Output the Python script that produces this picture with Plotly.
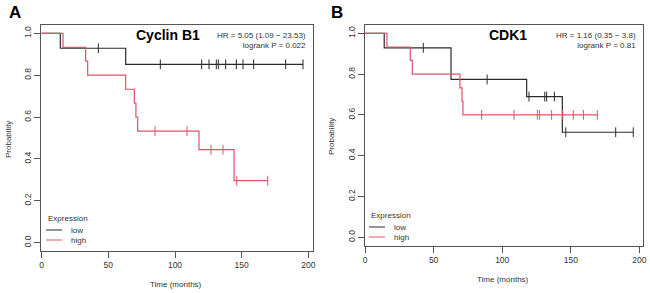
import plotly.graph_objects as go

# ---------------- data ----------------
# Panel A: Cyclin B1
a_low_times = [0, 14, 63]
a_low_surv = [1.0, 0.929, 0.852]
a_low_end = 196
a_low_censor = [42.5, 89, 120, 125.5, 131, 132.5, 138, 146, 151, 159, 183, 196]

a_high_times = [0, 16, 33, 34.5, 63, 69.5, 70.7, 72, 118, 144.3]
a_high_surv = [1.0, 0.933, 0.867, 0.8, 0.733, 0.667, 0.6, 0.533, 0.444, 0.296]
a_high_end = 169.5
a_high_censor = [85, 109, 127, 136, 146.3, 169.5]

# Panel B: CDK1
b_low_times = [0, 14, 62.7, 117.8, 143.8]
b_low_surv = [1.0, 0.929, 0.774, 0.69, 0.515]
b_low_end = 195.5
b_low_censor = [42.5, 89, 119.5, 131, 132.4, 138, 146.3, 182.7, 195.5]

b_high_times = [0, 16, 33, 34.5, 69.2, 70.7, 71.4]
b_high_surv = [1.0, 0.933, 0.867, 0.8, 0.733, 0.667, 0.6]
b_high_end = 169.3
b_high_censor = [85, 108.6, 125.6, 127.1, 136, 144.1, 151.8, 159.2, 169.3]

x_ticks = [0, 50, 100, 150, 200]
y_ticks = [0.0, 0.2, 0.4, 0.6, 0.8, 1.0]

titles = ["Cyclin B1", "CDK1"]
hr_texts = ["HR = 5.05 (1.09 \u2212 23.53)<br>logrank P = 0.022",
            "HR = 1.16 (0.35 \u2212 3.8)<br>logrank P = 0.81"]
panel_letters = ["A", "B"]
group_names = ["low", "high"]
legend_title = "Expression"

BLACK = "#2b2b2b"
RED = "#DF536B"
AXC = "#555555"
TXT = "#333333"
FONT = "Liberation Sans, Arial, sans-serif"

W, H = 650, 293


def px_x(p):
    return p / W


def px_y(p):
    return (H - p) / H


def step_xy(times, surv, end):
    xs = list(times) + [end]
    ys = list(surv) + [surv[-1]]
    return xs, ys


def surv_at(times, surv, t):
    val = surv[0]
    for ti, si in zip(times, surv):
        if ti <= t:
            val = si
    return val


fig = go.Figure()

panels = [
    ("x", "y", [(a_low_times, a_low_surv, a_low_end, a_low_censor, BLACK),
                (a_high_times, a_high_surv, a_high_end, a_high_censor, RED)]),
    ("x2", "y2", [(b_low_times, b_low_surv, b_low_end, b_low_censor, BLACK),
                  (b_high_times, b_high_surv, b_high_end, b_high_censor, RED)]),
]

for xa, ya, groups in panels:
    for name, (t, s, e, c, col) in zip(group_names, groups):
        xs, ys = step_xy(t, s, e)
        fig.add_trace(go.Scatter(x=xs, y=ys, mode="lines", line=dict(color=col, width=1.2, shape="hv"),
                                 name=name, xaxis=xa, yaxis=ya, showlegend=False))
        fig.add_trace(go.Scatter(x=c, y=[surv_at(t, s, ci) for ci in c], mode="markers",
                                 marker=dict(symbol="line-ns", size=7, line=dict(color=col, width=1)),
                                 xaxis=xa, yaxis=ya, showlegend=False, hoverinfo="skip"))

# domains (pixel based)
a_x0, a_x1, a_y0, a_y1 = 41, 313, 25, 251
b_x0, b_x1, b_y0, b_y1 = 365, 643, 25, 246

axis_common = dict(showgrid=False, zeroline=False, ticks="outside", ticklen=6, tickwidth=1,
                   tickcolor=AXC, linecolor=AXC, linewidth=1, showline=True, mirror=True,
                   automargin=False,
                   tickfont=dict(family=FONT, size=8.5, color=TXT))

fig.update_layout(
    xaxis=dict(domain=[px_x(a_x0), px_x(a_x1)], range=[-0.5, 203.5], anchor="y",
               tickvals=x_ticks, **axis_common),
    yaxis=dict(domain=[px_y(a_y1), px_y(a_y0)], range=[-0.04, 1.04], anchor="x",
               tickvals=y_ticks, tickformat=".1f", tickangle=-90, **axis_common),
    xaxis2=dict(domain=[px_x(b_x0), px_x(b_x1)], range=[0, 202.6], anchor="y2",
                tickvals=x_ticks, **axis_common),
    yaxis2=dict(domain=[px_y(b_y1), px_y(b_y0)], range=[-0.043, 1.041], anchor="x2",
                tickvals=y_ticks, tickformat=".1f", tickangle=-90, **axis_common),
)

ann = []
shapes = []


def add_text(text, xp, yp, size, color=TXT, xanchor="center", angle=0, align="center"):
    ann.append(dict(text=text, x=px_x(xp), y=px_y(yp), xref="paper", yref="paper",
                    xanchor=xanchor, yanchor="middle", align=align, textangle=angle,
                    showarrow=False, font=dict(family=FONT, size=size, color=color)))


# panel letters
for letter, xc in zip(panel_letters, [15, 337]):
    add_text("<b>" + letter + "</b>", xc, 13, 17, color="black")
# gene titles
for title, xc in zip(titles, [168, 508]):
    add_text("<b>" + title + "</b>", xc, 35, 14, color="black")
# HR text
for txt, xr in zip(hr_texts, [308, 638]):
    add_text(txt, xr, 40, 8, xanchor="right", align="right")
# axis titles
for xc, yc in [(176, 284), (503, 279)]:
    add_text("Time (months)", xc, yc, 8)
for xc, yc in [(8, 140), (331, 137)]:
    add_text("Probability", xc, yc, 8, angle=-90)

# legends (drawn as key lines + labels)
for lx, ly in [(46, 218), (369, 215)]:
    add_text(legend_title, lx, ly, 8, xanchor="left")
    for i, (name, col) in enumerate(zip(group_names, [BLACK, RED])):
        yy = ly + 12 + 10 * i
        shapes.append(dict(type="line", xref="paper", yref="paper",
                           x0=px_x(lx), x1=px_x(lx + 16), y0=px_y(yy), y1=px_y(yy),
                           line=dict(color=col, width=1)))
        add_text(name, lx + 23, yy, 8, xanchor="left")

fig.update_layout(annotations=ann, shapes=shapes, width=W, height=H,
                  margin=dict(l=0, r=0, t=0, b=0),
                  paper_bgcolor="white", plot_bgcolor="white", showlegend=False)

fig.write_html("out.html", config={"displayModeBar": False},
               post_script="document.body.style.margin='0';document.body.style.overflow='hidden';")
